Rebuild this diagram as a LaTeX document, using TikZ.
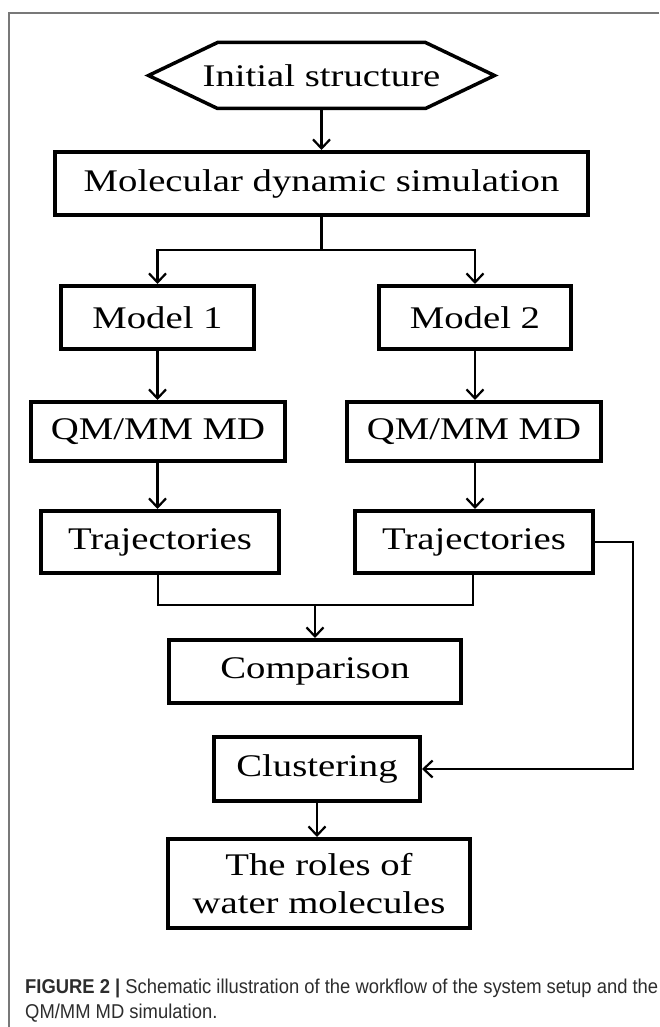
\documentclass[tikz,border=0pt]{standalone}
\usepackage{fontspec}
\newfontfamily\boxfont[FakeStretch=1.23]{Liberation Serif}
\newfontfamily\capfont[FakeStretch=0.92]{Liberation Sans}
\usetikzlibrary{arrows.meta}
\definecolor{capgray}{RGB}{45,45,45}
\definecolor{framegray}{RGB}{120,120,120}
\begin{document}
\begin{tikzpicture}[x=1pt,y=-1pt,
  box/.style={draw=black, line width=4pt, inner sep=0pt, align=center,
    font=\boxfont\fontsize{31.5}{38}\selectfont},
  conn/.style={line width=2.2pt, line join=miter},
  arr/.style={conn, -{Straight Barb[length=9pt,width=17pt]}},
  framestyle/.style={draw=framegray, line width=1.5pt}]
\useasboundingbox[fill=white] (0,0) rectangle (659,1027);
% frame
\coordinate (ftr) at (659,13);
\coordinate (ftl) at (9,13);
\coordinate (fbl) at (9,1027);
\draw[framestyle] (ftr) -- (ftl) -- (fbl);

% nodes
\node[box, draw=none, minimum width=342, minimum height=62] (init) at (321.5,75.5) {Initial structure};
\draw[line width=3.5pt, line join=miter] (init.west) -- ([xshift=69pt]init.north west) -- ([xshift=-69pt]init.north east) -- (init.east) -- ([xshift=-69pt]init.south east) -- ([xshift=69pt]init.south west) -- cycle;

\node[box, minimum width=533, minimum height=63] (md) at (321.5,183.5) {Molecular dynamic simulation};
\node[box, minimum width=193, minimum height=63] (m1) at (157.5,317.5) {Model 1};
\node[box, minimum width=192, minimum height=63] (m2) at (475,317.5) {Model 2};
\node[box, minimum width=254, minimum height=59] (q1) at (158,431.5) {QM/MM MD};
\node[box, minimum width=254, minimum height=59] (q2) at (474,431.5) {QM/MM MD};
\node[box, minimum width=238, minimum height=62] (t1) at (160,542) {Trajectories};
\node[box, minimum width=238, minimum height=62] (t2) at (474,542) {Trajectories};
\node[box, minimum width=292, minimum height=63] (comp) at (315,671.5) {Comparison};
\node[box, minimum width=206, minimum height=64] (clus) at (317,769) {Clustering};
\node[box, minimum width=302, minimum height=89] (roles) at (319,883.5) {The roles of\\water molecules};

% connectors
\draw[arr] (init.south) -- (md.north);
\coordinate (br) at (321.5,250);
\draw[conn] (md.south) -- (br);
\draw[arr] (br) -| (m1.north);
\draw[arr] (br) -| (m2.north);
\draw[arr] (m1.south) -- (q1.north -| m1.south);
\draw[arr] (m2.south) -- (q2.north -| m2.south);
\draw[arr] (q1.south -| m1.south) -- (t1.north -| m1.south);
\draw[arr] (q2.south -| m2.south) -- (t2.north -| m2.south);
\coordinate (jl) at (158,605);
\coordinate (jr) at (473,605);
\coordinate (jm) at (315,605);
\draw[conn] (t1.south -| jl) -- (jl) -- (jr) -- (t2.south -| jr);
\draw[arr] (jm) -- (comp.north);
\coordinate (rc) at (633,542);
\draw[arr] (t2.east) -- (rc) |- (clus.east);
\draw[arr] (clus.south) -- (roles.north -| clus.south);

% caption
\node[anchor=west, align=left, inner sep=0pt, text=capgray,
  font=\capfont\fontsize{20}{25}\selectfont] (cap) at (25,1000.5)
  {\textbf{FIGURE 2 |} Schematic illustration of the workflow of the system setup and the\\QM/MM MD simulation.};
\end{tikzpicture}
\end{document}
